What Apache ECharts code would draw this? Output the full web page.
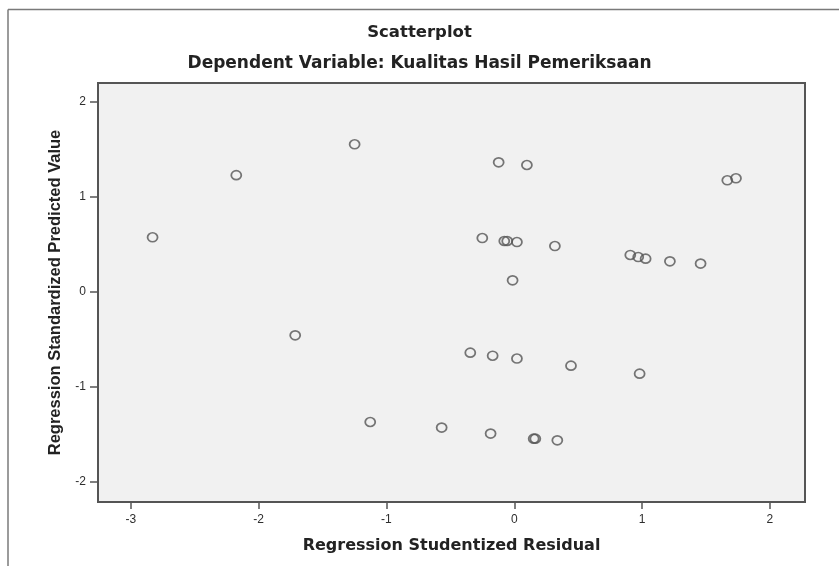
<!DOCTYPE html>
<html>
<head>
<meta charset="utf-8">
<script src="https://cdn.jsdelivr.net/npm/echarts@6/dist/echarts.min.js"></script>
<style>
html,body{margin:0;padding:0;background:#fff;}
#chart{width:839px;height:566px;}
</style>
</head>
<body>
<div id="chart"></div>
<script>
// Regression Studentized Residual (x) and Regression Standardized Predicted Value (y)
const residuals = [-2.83, -2.175, -1.249, -0.122, 0.099, 1.667, 1.735, -0.25, -0.078, -0.055,
  0.021, 0.318, 0.908, 0.970, 1.028, 1.218, 1.458, -0.013, -1.714, -1.127,
  -0.568, -0.344, -0.169, 0.021, 0.444, 0.981, -0.185, 0.152, 0.165, 0.337];
const predicted = [0.576, 1.23, 1.555, 1.365, 1.337, 1.176, 1.197, 0.568, 0.537, 0.537,
  0.526, 0.484, 0.39, 0.368, 0.351, 0.323, 0.299, 0.123, -0.456, -1.368,
  -1.427, -0.638, -0.67, -0.70, -0.775, -0.859, -1.49, -1.543, -1.543, -1.561];
const xTicks = [-3, -2, -1, 0, 1, 2];
const yTicks = [-2, -1, 0, 1, 2];
const titleText = 'Scatterplot';
const subtitleText = 'Dependent Variable: Kualitas Hasil Pemeriksaan';
const xName = 'Regression Studentized Residual';
const yName = 'Regression Standardized Predicted Value';

const points = residuals.map((x, i) => [x, predicted[i]]);
const chart = echarts.init(document.getElementById('chart'), null, {renderer: 'canvas'});
const tickLabelStyle = {fontFamily: 'Liberation Sans', fontSize: 12, color: '#2e2e2e'};
chart.setOption({
  backgroundColor: '#ffffff',
  animation: false,
  title: [
    {text: titleText, left: 'center', top: 24, padding: 0,
     textStyle: {fontFamily: 'DejaVu Sans', fontWeight: 'bold', fontSize: 16.5, color: '#222'}},
    {text: subtitleText, left: 'center', top: 55, padding: 0,
     textStyle: {fontFamily: 'DejaVu Sans', fontWeight: 'bold', fontSize: 17, color: '#222'}}
  ],
  graphic: [
    {type: 'line', shape: {x1: 8, y1: 9.5, x2: 839, y2: 9.5}, style: {stroke: '#7a7a7a', lineWidth: 1.5}, silent: true},
    {type: 'line', shape: {x1: 8, y1: 9.5, x2: 8, y2: 566}, style: {stroke: '#7a7a7a', lineWidth: 1.5}, silent: true}
  ],
  grid: {left: 98, top: 83, right: 34, bottom: 64, show: true,
    backgroundColor: '#f1f1f1', borderColor: '#555', borderWidth: 2},
  xAxis: {
    type: 'value', min: -3.257, max: 2.275,
    name: xName, nameLocation: 'middle', nameGap: 36,
    nameTextStyle: {fontFamily: 'DejaVu Sans', fontWeight: 'bold', fontSize: 16, color: '#222'},
    axisLine: {show: true, onZero: false, lineStyle: {color: '#555', width: 2}},
    axisTick: {show: true, length: 7, customValues: xTicks, lineStyle: {color: '#555', width: 1.5}},
    axisLabel: Object.assign({margin: 12, customValues: xTicks}, tickLabelStyle),
    splitLine: {show: false}
  },
  yAxis: {
    type: 'value', min: -2.21, max: 2.2,
    name: yName, nameLocation: 'middle', nameGap: 34, nameRotate: 90,
    nameTextStyle: {fontFamily: 'Liberation Sans', fontWeight: 'bold', fontSize: 16.5, color: '#222'},
    axisLine: {show: true, onZero: false, lineStyle: {color: '#555', width: 2}},
    axisTick: {show: true, length: 8, customValues: yTicks, lineStyle: {color: '#555', width: 1.5}},
    axisLabel: Object.assign({margin: 12, customValues: yTicks}, tickLabelStyle),
    splitLine: {show: false}
  },
  series: [{
    type: 'scatter',
    data: points,
    symbol: 'circle',
    symbolSize: [10, 9],
    itemStyle: {color: 'rgba(0,0,0,0)', borderColor: '#555', borderWidth: 1.7}
  }]
});
</script>
</body>
</html>
